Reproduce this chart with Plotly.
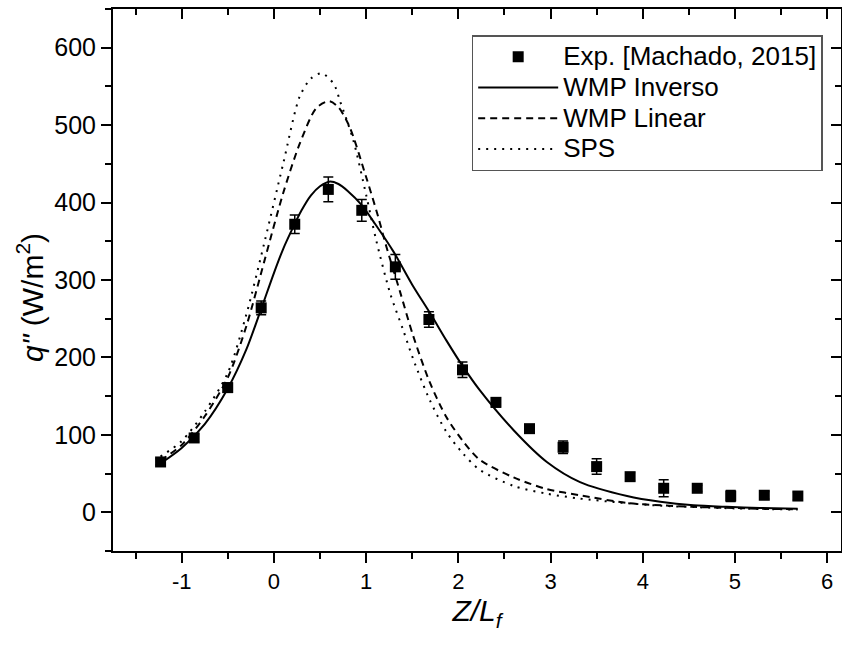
import plotly.graph_objects as go

# Experimental data
x_exp = [-1.229, -0.865, -0.501, -0.138, 0.226, 0.590, 0.953, 1.317, 1.681, 2.045,
         2.408, 2.772, 3.136, 3.500, 3.863, 4.227, 4.591, 4.954, 5.318, 5.682]
y_exp = [65, 96, 161, 264, 372, 417, 390, 317, 249, 184,
         142, 108, 84, 59, 46, 31, 31, 21, 22, 21]
err_exp = [4, 5, 6, 9, 12, 16, 14, 16, 10, 10,
           6, 5, 8, 10, 5, 11, 4, 7, 5, 5]

# WMP Inverso (solid)
x_inv = [-1.23, -1.0, -0.75, -0.5, -0.3, -0.14, 0.0, 0.1, 0.2, 0.3, 0.4, 0.5, 0.6, 0.7, 0.8,
         0.95, 1.1, 1.3, 1.5, 1.7, 1.87, 2.04, 2.23, 2.6, 2.96, 3.32, 3.83, 4.19, 4.55, 4.91, 5.27, 5.68]
y_inv = [63, 83, 114, 160, 210, 262, 309, 340, 366, 390, 409, 421, 427, 424, 415,
         397, 372, 336, 294, 256, 222, 190, 158, 106, 65, 39, 21, 13.5, 9, 7, 5.6, 4.5]

# WMP Linear (dashed)
x_lin = [-1.23, -1.0, -0.75, -0.5, -0.3, -0.1, 0.1, 0.28, 0.46, 0.6, 0.7, 0.82, 1.0, 1.13, 1.22,
         1.37, 1.51, 1.69, 1.87, 2.05, 2.23, 2.6, 2.96, 3.32, 3.83, 4.2, 4.55, 5.0, 5.3, 5.68]
y_lin = [67, 87, 124, 174, 240, 326, 412, 476, 522, 531, 523, 498, 433, 382, 343,
         284, 228, 168, 123, 92, 68, 45, 30, 22, 12, 9, 7, 5.5, 4.5, 4]

# SPS (dotted)
x_sps = [-1.23, -1.0, -0.75, -0.5, -0.3, -0.1, 0.1, 0.28, 0.4, 0.52, 0.65, 0.72, 0.86, 1.0, 1.11,
         1.26, 1.4, 1.51, 1.69, 1.87, 2.05, 2.23, 2.6, 2.96, 3.3, 3.8, 4.2, 4.6, 5.0, 5.4, 5.68]
y_sps = [72, 92, 130, 180, 255, 350, 450, 537, 560, 567, 553, 530, 481, 410, 351,
         283, 236, 198, 145, 104, 76, 55, 34, 24, 18, 12, 8.5, 6.5, 5, 4, 3.5]

series_names = ["Exp. [Machado, 2015]", "WMP Inverso", "WMP Linear", "SPS"]

x_range = [-1.745, 6.15]
y_range = [-50, 650]
x_ticks = [-1, 0, 1, 2, 3, 4, 5, 6]
x_ticktext = ["-1", "0", "1", "2", "3", "4", "5", "6"]
y_ticks = [0, 100, 200, 300, 400, 500, 600]

FONT = "Arial, Liberation Sans, sans-serif"


def leg(name):
    return '<span style="font-size:26px">' + name + '</span>'


fig = go.Figure()
fig.add_trace(go.Scatter(
    x=x_exp, y=y_exp, mode="markers", name=leg(series_names[0]),
    marker=dict(symbol="square", size=11, color="black"),
    error_y=dict(type="data", array=err_exp, visible=True, color="black", thickness=1.5, width=5),
))
fig.add_trace(go.Scatter(x=x_inv, y=y_inv, mode="lines", name=leg(series_names[1]),
                         line=dict(color="black", width=2, shape="spline", smoothing=0.8)))
fig.add_trace(go.Scatter(x=x_lin, y=y_lin, mode="lines", name=leg(series_names[2]),
                         line=dict(color="black", width=2, dash="7px,5px", shape="spline", smoothing=0.8)))
fig.add_trace(go.Scatter(x=x_sps, y=y_sps, mode="lines", name=leg(series_names[3]),
                         line=dict(color="black", width=2, dash="2px,6px", shape="spline", smoothing=0.8)))
# dummy trace for mirrored (inward) top/right axes
fig.add_trace(go.Scatter(x=[None], y=[None], xaxis="x2", yaxis="y2", showlegend=False, hoverinfo="skip"))

axis_common = dict(showgrid=False, zeroline=False, showline=True, linecolor="black", linewidth=2,
                   tickcolor="black", tickwidth=2, ticklen=10)

fig.update_layout(
    width=842, height=646,
    margin=dict(l=113, r=1, t=9, b=95),
    paper_bgcolor="white", plot_bgcolor="white",
    font=dict(family=FONT, color="black", size=22),
    xaxis=dict(range=x_range, tickvals=x_ticks, ticktext=x_ticktext, ticks="outside",
               tickfont=dict(size=22),
               minor=dict(dtick=0.5, ticklen=6, ticks="outside", tickwidth=2, tickcolor="black"),
               title=dict(text="<i>Z/L<sub>f</sub></i>", font=dict(size=30), standoff=0),
               **axis_common),
    yaxis=dict(range=y_range, tickvals=y_ticks, ticks="outside",
               tickfont=dict(size=25),
               minor=dict(dtick=50, ticklen=6, ticks="outside", tickwidth=2, tickcolor="black"),
               **axis_common),
    xaxis2=dict(range=x_range, tickvals=x_ticks, ticks="inside", showticklabels=False,
                overlaying="x", side="top", anchor="y2",
                minor=dict(dtick=0.5, ticklen=6, ticks="inside", tickwidth=2, tickcolor="black"),
                **axis_common),
    yaxis2=dict(range=y_range, tickvals=y_ticks, ticks="inside", showticklabels=False,
                overlaying="y", side="right", anchor="x2",
                minor=dict(dtick=50, ticklen=6, ticks="inside", tickwidth=2, tickcolor="black"),
                **axis_common),
    legend=dict(x=0.4927, y=0.952, xanchor="left", yanchor="top",
                bgcolor="white", bordercolor="#555555", borderwidth=1.5,
                font=dict(size=21.3, family=FONT), itemwidth=80, tracegroupgap=0),
    showlegend=True,
    annotations=[dict(text="<i>q\"</i> (W/m<sup>2</sup>)", xref="paper", yref="paper",
                      x=-0.114, y=0.467, xanchor="center", yanchor="middle",
                      textangle=-90, showarrow=False, font=dict(size=30, family=FONT))],
)

fig.write_html("out.html")
